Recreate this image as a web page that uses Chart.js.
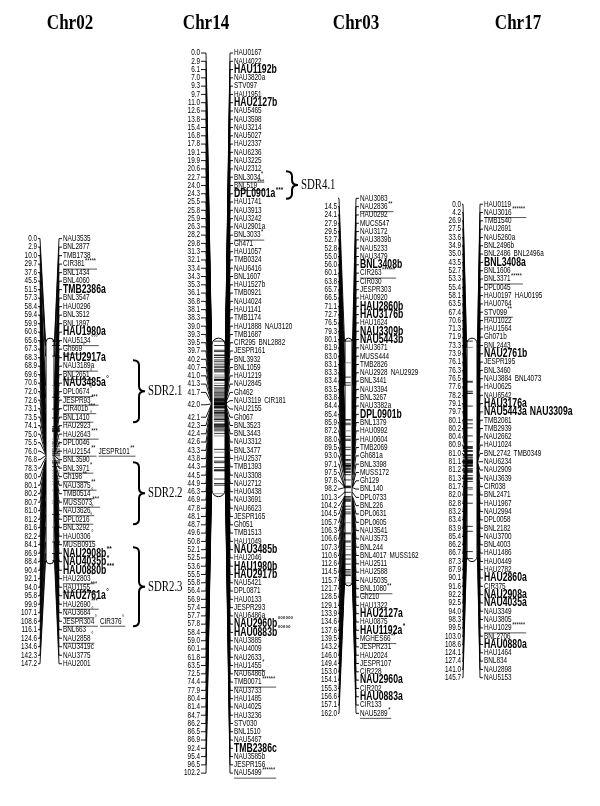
<!DOCTYPE html>
<html>
<head>
<meta charset="utf-8">
<script src="https://cdn.jsdelivr.net/npm/chart.js@4.4.1/dist/chart.umd.min.js"></script>
<style>
  html, body { margin: 0; padding: 0; background: #fff; }
  #map { display: block; }
</style>
</head>
<body>
<canvas id="map" width="600" height="806"></canvas>
<script>
// --- 1. MAP DATA (cM positions, marker names, shared loci in bold) ---
const chr02Pos = [0.0, 2.9, 10.0, 29.7, 37.6, 45.5, 51.5, 57.3, 58.4, 59.4, 59.9, 60.6, 65.6, 67.3, 68.3, 68.9, 69.6, 70.6, 72.0, 72.6,
  73.1, 73.5, 74.1, 75.0, 75.5, 76.0, 76.8, 78.3, 80.0, 80.1, 80.2, 80.7, 81.0, 81.2, 81.6, 82.2, 84.1, 86.9, 88.4, 90.4,
  92.1, 94.0, 95.8, 99.9, 107.1, 108.6, 116.1, 124.6, 134.6, 142.3, 147.2];
const chr02Markers = ['NAU3535', 'BNL2877', 'TMB1738', 'CIR381*****', 'BNL1434', 'BNL4060', 'TMB2386a', 'BNL3547', 'HAU0296', 'BNL3512',
  'BNL1897', 'HAU1980a', 'NAU5134°°°', 'Gh669°', 'HAU2917a', 'NAU3189a°', 'BNL2651°', 'NAU3485a°', 'DPL0674°', 'JESPR93***',
  'CIR401b***', 'BNL1410°', 'HAU2923', 'HAU2643***', 'DPL0046', 'HAU2154** JESPR101**', 'BNL3590', 'BNL3971*', 'Gh198**', 'NAU3875**',
  'TMB0514°', 'MUSS073***', 'NAU3626°', 'DPL0216°', 'BNL3292', 'HAU0306°', 'MUSB0915', 'NAU2908b**', 'NAU4035b*', 'HAU0880b***',
  'HAU2803°', 'HAU1155***', 'NAU2761a°', 'HAU2690***', 'NAU3684°', 'JESPR304° CIR376°', 'BNL663', 'NAU2858°', 'NAU3419c', 'NAU3775', 'HAU2001'];
const chr02Bold = ['TMB2386a', 'HAU1980a', 'HAU2917a', 'NAU3485a', 'NAU2908b', 'NAU4035b', 'HAU0880b', 'NAU2761a'];

const chr14Pos = [0.0, 2.9, 6.1, 7.0, 9.3, 9.7, 11.0, 12.6, 13.8, 15.4, 16.8, 17.8, 19.1, 19.9, 20.6, 22.7, 24.0, 24.3, 25.5, 25.8,
  25.9, 26.3, 28.2, 29.8, 31.3, 32.1, 33.4, 34.3, 35.3, 36.1, 36.8, 38.1, 38.3, 39.0, 39.3, 39.5, 39.7, 40.2, 40.7, 41.0,
  41.3, 41.7, 42.0, 42.0, 42.1, 42.3, 42.4, 42.6, 43.3, 43.8, 44.3, 44.5, 44.9, 46.3, 46.9, 47.8, 48.1, 48.7, 49.6, 50.8,
  52.1, 52.5, 53.6, 55.5, 55.8, 56.4, 56.9, 57.4, 57.7, 57.8, 58.4, 59.0, 60.1, 61.8, 63.5, 72.5, 74.4, 77.9, 80.4, 81.4,
  84.7, 86.2, 86.5, 86.9, 92.4, 95.4, 96.5, 102.2];
const chr14Markers = ['HAU0167', 'NAU4022', 'HAU1192b', 'NAU3820a', 'STV097', 'HAU1951', 'HAU2127b', 'NAU5465', 'NAU3598', 'NAU3214',
  'NAU5027', 'HAU2337', 'NAU6236', 'NAU3225', 'NAU2312', 'BNL3034*', 'BNL519***', 'DPL0901a***', 'HAU1741', 'NAU3913',
  'NAU3242', 'NAU2901a', 'BNL3033*', 'Gh471', 'HAU1057', 'TMB0324', 'NAU6416', 'BNL1607', 'HAU1527b', 'TMB0921',
  'NAU4024', 'HAU1141', 'TMB1174', 'HAU1888 NAU3120', 'TMB1687', 'CIR295 BNL2882', 'JESPR161', 'BNL3932', 'BNL1059', 'HAU1219',
  'NAU2845', 'Gh462', 'NAU3119 CIR181', 'NAU2155', 'Gh067', 'BNL3523', 'BNL3443', 'NAU3312', 'BNL3477', 'HAU2537',
  'TMB1393', 'NAU3308', 'NAU2712', 'HAU0438', 'NAU3691', 'NAU6623', 'JESPR165', 'Gh051', 'TMB1513', 'HAU1049',
  'NAU3485b', 'HAU2046', 'HAU1980b', 'HAU2917b', 'NAU5421', 'DPL0871', 'HAU0133', 'JESPR293', 'NAU6486a', 'NAU2960b°°°°°°',
  'HAU0883b°°°°°', 'NAU3885', 'NAU4009', 'NAU2633', 'HAU1455*', 'NAU6486b', 'TMB0071******', 'NAU3733', 'HAU1485', 'NAU4025',
  'HAU3236', 'STV030', 'BNL1510', 'NAU5467', 'TMB2386c', 'NAU3585b', 'JESPR156', 'NAU5499******'];
const chr14Bold = ['HAU1192b', 'HAU2127b', 'DPL0901a', 'NAU3485b', 'HAU1980b', 'HAU2917b', 'NAU2960b', 'HAU0883b', 'TMB2386c'];

const chr03Pos = [0.0, 14.5, 24.1, 27.9, 29.5, 52.7, 52.8, 55.0, 56.0, 60.1, 63.8, 65.7, 66.5, 71.1, 72.7, 76.5, 79.3, 80.1, 81.9, 83.0,
  83.1, 83.3, 83.4, 83.5, 83.8, 84.4, 85.4, 85.9, 87.2, 88.0, 89.5, 93.0, 97.1, 97.5, 97.8, 98.2, 101.3, 104.2, 104.5, 105.7,
  106.3, 106.6, 107.3, 110.6, 112.6, 114.5, 115.7, 121.7, 128.5, 129.1, 133.9, 134.6, 137.6, 139.5, 143.2, 146.0, 149.4, 153.0, 154.1, 155.3,
  156.6, 157.1, 162.0];
const chr03Markers = ['NAU3083', 'NAU2836**', 'HAU0292', 'MUCS547', 'NAU3172', 'NAU3839b', 'NAU5233', 'NAU3479', 'BNL3408b', 'CIR263******',
  'CIR030', 'JESPR303', 'HAU0920', 'HAU2860b', 'HAU3176b', 'HAU1624', 'NAU3309b', 'NAU5443b', 'NAU3671', 'MUSS444',
  'TMB2826', 'NAU2928 NAU2929', 'BNL3441', 'NAU3394', 'BNL3267', 'NAU3382a', 'DPL0901b', 'BNL1379', 'HAU0992', 'HAU0604',
  'TMB2069', 'Gh681a', 'BNL3398', 'MUSS172', 'Gh129', 'BNL140', 'DPL0733', 'BNL226', 'DPL0631', 'DPL0605',
  'NAU3541', 'NAU3573', 'BNL244', 'BNL4017 MUSS162', 'HAU2511', 'HAU2588', 'NAU5035', 'BNL1080**', 'Gh210', 'HAU1322',
  'HAU2127a', 'HAU0875', 'HAU1192a*', 'MGHES66**', 'JESPR231', 'HAU2024', 'JESPR107', 'CIR228', 'NAU2960a', 'CIR202',
  'HAU0883a', 'CIR133', 'NAU5289*'];
const chr03Bold = ['BNL3408b', 'HAU2860b', 'HAU3176b', 'NAU3309b', 'NAU5443b', 'DPL0901b', 'HAU2127a', 'HAU1192a', 'NAU2960a', 'HAU0883a'];
const chr03NoPosLabel = ['NAU3083'];

const chr17Pos = [0.0, 4.2, 26.9, 27.5, 33.6, 34.9, 35.0, 43.5, 52.7, 53.3, 55.4, 58.1, 63.5, 67.4, 70.6, 71.3, 71.9, 73.3, 73.9, 76.1,
  76.3, 76.5, 77.6, 78.2, 79.1, 79.7, 80.1, 80.2, 80.4, 80.9, 81.0, 81.1, 81.2, 81.3, 81.7, 82.0, 82.8, 83.2, 83.4, 83.9,
  85.4, 86.2, 86.7, 87.3, 87.9, 90.1, 91.6, 92.2, 92.5, 94.0, 98.3, 99.5, 103.0, 108.6, 124.1, 127.4, 141.0, 145.7];
const chr17Markers = ['HAU0119', 'NAU3016******', 'TMB1540', 'NAU2691', 'NAU5260a', 'BNL2496b', 'BNL2486 BNL2496a', 'BNL3408a', 'BNL1606', 'BNL3371*****',
  'DPL0045', 'HAU0197 HAU0195', 'HAU0764', 'STV099**', 'HAU1022', 'HAU1564', 'Gh071b', 'BNL2443', 'NAU2761b', 'JESPR195',
  'BNL3460', 'NAU3884 BNL4073', 'HAU0625', 'NAU6542', 'HAU3176a', 'NAU5443a NAU3309a', 'TMB2081', 'TMB2939', 'NAU2662', 'HAU1024',
  'BNL2742 TMB0349', 'NAU6234', 'NAU2909', 'NAU3639', 'CIR038', 'BNL2471', 'HAU1967', 'NAU2994', 'DPL0058', 'BNL2182',
  'NAU3700', 'BNL4003', 'HAU1486', 'HAU0449', 'HAU2782', 'HAU2860a', 'CIR375', 'NAU2908a', 'NAU4035a', 'NAU3349',
  'NAU3805', 'HAU1029******', 'BNL2706', 'HAU0880a', 'HAU1464', 'BNL834', 'NAU2898', 'NAU5153'];
const chr17Bold = ['BNL3408a', 'NAU2761b', 'HAU3176a', 'NAU5443a', 'NAU3309a', 'HAU2860a', 'NAU2908a', 'NAU4035a', 'HAU0880a'];

// segregation distortion regions
const sdrLabels = ['SDR2.1', 'SDR2.2', 'SDR2.3', 'SDR4.1'];
const sdrChromosome = ['chr02', 'chr02', 'chr02', 'chr14'];
const sdrFirstMarker = ['NAU3189a', 'BNL3971', 'NAU2908b', 'BNL3034'];
const sdrLastMarker = ['BNL1410', 'DPL0216', 'JESPR304', 'DPL0901a'];

// --- 2. LAYOUT ---
const W = 600, H = 806;
const SANS = '"Liberation Sans", Arial, sans-serif';
const SERIF = '"Liberation Serif", "Times New Roman", serif';
const CM_TOP = 340;      // pixel row of 0 cM, shared by all chromosomes
const PX_PER_CM = 1.52;

const chromosomes = [
  { id: 'chr02', title: 'Chr02', pos: chr02Pos, markers: chr02Markers, bold: chr02Bold, noLabel: [] },
  { id: 'chr14', title: 'Chr14', pos: chr14Pos, markers: chr14Markers, bold: chr14Bold, noLabel: [] },
  { id: 'chr03', title: 'Chr03', pos: chr03Pos, markers: chr03Markers, bold: chr03Bold, noLabel: chr03NoPosLabel },
  { id: 'chr17', title: 'Chr17', pos: chr17Pos, markers: chr17Markers, bold: chr17Bold, noLabel: [] }
];

// posRight: right edge of cM labels, linkL/linkR: where the fan-in lines bend
const layout = {
  chr02: { titleX: 70,  posRight: 37,  linkL: 40,  barL: 46,  barR: 54,  linkR: 59,  nameX: 63,  top: 243, step: 8.66 },
  chr14: { titleX: 206, posRight: 200, linkL: 206, barL: 212, barR: 225, linkR: 230, nameX: 234, top: 54,  step: 8.43 },
  chr03: { titleX: 356, posRight: 337, linkL: 339, barL: 345, barR: 352, linkR: 356, nameX: 360, top: 202, step: 8.46 },
  chr17: { titleX: 518, posRight: 461, linkL: 463, barL: 467, barR: 477, linkR: 480, nameX: 484, top: 208, step: 8.46 }
};
const braceX = { chr02: 139, chr14: 292 };

// --- 3. HELPERS ---
const baseName = s => s.replace(/[*°]+$/, '');

function drawText(ctx, text, x, y, font, sx, align) {
  ctx.save();
  ctx.font = font;
  ctx.textAlign = align || 'left';
  ctx.textBaseline = 'middle';
  ctx.translate(x, y);
  ctx.scale(sx, 1);
  ctx.fillText(text, 0, 0);
  const w = ctx.measureText(text).width * sx;
  ctx.restore();
  return w;
}

// draws a marker row: names, superscript distortion marks, underline
function drawMarker(ctx, label, x, y, boldList) {
  let cx = x;
  label.split(' ').forEach(part => {
    const base = baseName(part);
    const sup = part.slice(base.length);
    const isBold = boldList.includes(base);
    const font = isBold ? `bold 12px ${SANS}` : `8.5px ${SANS}`;
    const sx = isBold ? 0.72 : 0.75;
    let w = drawText(ctx, base, cx, y, font, sx);
    if (sup) {
      const supFont = isBold ? `bold 8px ${SANS}` : `7px ${SANS}`;
      w += 0.5 + drawText(ctx, sup, cx + w + 0.5, y - (isBold ? 4 : 3), supFont, 0.8);
      if (!isBold) {
        ctx.save();
        ctx.strokeStyle = '#555';
        ctx.lineWidth = 1;
        ctx.beginPath();
        ctx.moveTo(cx, y + 5);
        ctx.lineTo(cx + w + 1, y + 5);
        ctx.stroke();
        ctx.restore();
      }
    }
    cx += w + 3;
  });
}

function drawBrace(ctx, x, y1, y2, depth) {
  const ym = (y1 + y2) / 2;
  const r = 5;
  ctx.beginPath();
  ctx.moveTo(x - depth, y1);
  ctx.quadraticCurveTo(x, y1, x, y1 + r);
  ctx.lineTo(x, ym - r);
  ctx.quadraticCurveTo(x, ym, x + depth, ym);
  ctx.quadraticCurveTo(x, ym, x, ym + r);
  ctx.lineTo(x, y2 - r);
  ctx.quadraticCurveTo(x, y2, x - depth, y2);
  ctx.stroke();
}

// --- 4. SCALES & DATASETS ---
const scales = {
  x: { type: 'linear', display: false, min: 0, max: W },
  // one shared genetic-distance axis for every chromosome
  cm: { type: 'linear', display: false, reverse: true, bounds: 'data',
    min: -CM_TOP / PX_PER_CM, max: (H - CM_TOP) / PX_PER_CM }
};
chromosomes.forEach(chr => {
  const lay = layout[chr.id];
  // label rows are spread evenly down the page
  scales[`row_${chr.id}`] = { type: 'linear', display: false, reverse: true, bounds: 'data',
    min: -lay.top / lay.step, max: (H - lay.top) / lay.step };
});

const datasets = chromosomes.map(chr => {
  const lay = layout[chr.id];
  return {
    label: chr.title,
    xAxisID: 'x',
    yAxisID: 'cm',
    data: chr.pos.map(p => ({ x: (lay.barL + lay.barR) / 2, y: p })),
    pointStyle: 'line',
    pointRadius: (lay.barR - lay.barL) / 2,
    borderWidth: 0.8,
    borderColor: chr.markers.map(m => (/[*°]/.test(m) ? '#777' : '#000')),
    clip: false
  };
});

// --- 5. DRAWING PLUGIN (bars, connectors, labels) ---
const linkagePlugin = {
  id: 'linkageMap',
  beforeDatasetsDraw(chart) {
    const ctx = chart.ctx;
    const cm = chart.scales.cm;
    chromosomes.forEach(chr => {
      const lay = layout[chr.id];
      const yTop = cm.getPixelForValue(0);
      const yBot = cm.getPixelForValue(chr.pos[chr.pos.length - 1]);
      const w = lay.barR - lay.barL;
      ctx.save();
      ctx.beginPath();
      ctx.roundRect(lay.barL, yTop - 3, w, yBot - yTop + 6, w / 2);
      ctx.fillStyle = '#fff';
      ctx.fill();
      ctx.lineWidth = 1;
      ctx.strokeStyle = '#000';
      ctx.stroke();
      ctx.restore();
    });
  },
  afterDatasetsDraw(chart) {
    const ctx = chart.ctx;
    const cm = chart.scales.cm;
    ctx.save();
    ctx.fillStyle = '#000';

    chromosomes.forEach(chr => {
      const lay = layout[chr.id];
      const row = chart.scales[`row_${chr.id}`];

      // title
      ctx.save();
      ctx.font = `bold 20px ${SERIF}`;
      ctx.textAlign = 'center';
      ctx.textBaseline = 'alphabetic';
      ctx.translate(lay.titleX, 29);
      ctx.scale(0.85, 1);
      ctx.fillText(chr.title, 0, 0);
      ctx.restore();

      // right fan-in lines + marker names
      ctx.strokeStyle = '#000';
      ctx.lineWidth = 0.9;
      chr.pos.forEach((p, i) => {
        const yRow = row.getPixelForValue(i);
        const yCm = cm.getPixelForValue(p);
        ctx.beginPath();
        ctx.moveTo(lay.barR, yCm);
        ctx.lineTo(lay.barR + 0.5, yCm);
        ctx.lineTo(lay.linkR, yRow);
        ctx.lineTo(lay.nameX - 1, yRow);
        ctx.stroke();
        drawMarker(ctx, chr.markers[i], lay.nameX, yRow, chr.bold);
      });

      // left fan-in lines + positions (equal positions share one label)
      let i = 0;
      while (i < chr.pos.length) {
        let j = i;
        while (j + 1 < chr.pos.length && chr.pos[j + 1] === chr.pos[i]) j++;
        const yRow = (row.getPixelForValue(i) + row.getPixelForValue(j)) / 2;
        const yCm = cm.getPixelForValue(chr.pos[i]);
        ctx.beginPath();
        ctx.moveTo(lay.posRight + 1, yRow);
        ctx.lineTo(lay.linkL, yRow);
        ctx.lineTo(lay.barL - 0.5, yCm);
        ctx.lineTo(lay.barL, yCm);
        ctx.stroke();
        if (!chr.noLabel.includes(baseName(chr.markers[i]))) {
          drawText(ctx, chr.pos[i].toFixed(1), lay.posRight, yRow, `8.5px ${SANS}`, 0.75, 'right');
        }
        i = j + 1;
      }
    });

    // SDR braces
    ctx.lineWidth = 2;
    sdrLabels.forEach((label, k) => {
      const chr = chromosomes.find(c => c.id === sdrChromosome[k]);
      const row = chart.scales[`row_${chr.id}`];
      const names = chr.markers.map(m => baseName(m.split(' ')[0]));
      const y1 = row.getPixelForValue(names.indexOf(sdrFirstMarker[k])) - 6;
      const y2 = row.getPixelForValue(names.indexOf(sdrLastMarker[k])) + 5;
      const bx = braceX[chr.id];
      drawBrace(ctx, bx, y1, y2, 6);
      drawText(ctx, label, bx + 9, (y1 + y2) / 2, `15px ${SERIF}`, 0.72);
    });
    ctx.restore();
  }
};

// --- 6. BUILD CHART ---
new Chart(document.getElementById('map'), {
  type: 'scatter',
  data: { datasets },
  options: {
    responsive: false,
    animation: false,
    events: [],
    layout: { padding: 0 },
    scales,
    plugins: { legend: { display: false }, tooltip: { enabled: false } }
  },
  plugins: [linkagePlugin]
});
</script>
</body>
</html>
